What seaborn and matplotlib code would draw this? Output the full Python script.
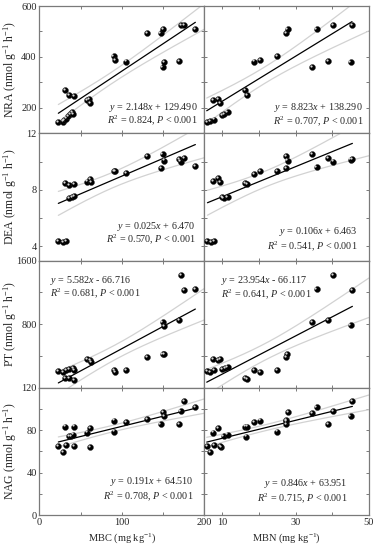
import numpy as np
import pandas as pd
import matplotlib
matplotlib.use("Agg")
import matplotlib.pyplot as plt
import matplotlib.transforms as mtransforms
from matplotlib.ticker import MultipleLocator, FixedLocator, NullFormatter
import seaborn as sns

# ---- data ----
nra_mbc_x = [22.9, 28.3, 30.2, 32.3, 35.1, 37.2, 39.3, 41.2, 31.1, 35.9, 42.1, 57.5, 60.7,
             61.6, 90.0, 91.7, 104.6, 130.7, 147.0, 150.2, 149.4, 151.0, 169.0, 172.2, 175.4, 189.3]
nra_mbc_y = [145, 146, 152, 158, 167, 174, 183, 174, 269, 250, 247, 230, 234,
             219, 403, 388, 382, 495, 495, 509, 359, 379, 383, 527, 525, 511]

nra_mbn_x = [5.7, 6.6, 7.7, 7.4, 8.9, 9.4, 9.8, 10.5, 11.4, 16.2, 16.6, 18.7, 20.3,
             25.0, 27.4, 27.8, 34.6, 35.7, 38.9, 40.1, 45.0, 45.4]
nra_mbn_y = [145, 148, 154, 230, 234, 220, 171, 174, 184, 269, 250, 382, 388,
             403, 495, 509, 359, 511, 383, 527, 379, 525]

dea_mbc_x = [22.9, 28.3, 32.3, 31.1, 36.0, 42.1, 36.0, 39.3, 42.1, 58.3, 61.6, 62.4,
             90.9, 92.1, 104.6, 130.7, 149.4, 147.8, 151.0, 169.0, 171.3, 175.4, 189.3]
dea_mbc_y = [4.36, 4.31, 4.36, 8.47, 8.36, 8.40, 7.45, 7.52, 7.57, 8.59, 8.76, 8.52,
             9.36, 9.31, 9.16, 10.38, 10.54, 9.54, 10.07, 10.19, 10.00, 10.24, 9.66]

dea_mbn_x = [5.9, 6.8, 7.7, 7.4, 8.9, 9.4, 9.9, 10.3, 11.4, 16.2, 16.8, 18.7, 20.3,
             25.0, 27.4, 27.4, 27.8, 34.6, 35.7, 38.9, 40.1, 45.0, 45.5]
dea_mbn_y = [4.36, 4.31, 4.36, 8.64, 8.81, 8.52, 7.50, 7.45, 7.50, 8.47, 8.40, 9.11, 9.31,
             9.36, 9.54, 10.38, 10.07, 10.50, 9.64, 10.24, 10.00, 10.14, 10.19]

pt_mbc_x = [22.9, 28.3, 32.3, 36.0, 41.2, 42.1, 31.1, 36.0, 42.1, 57.5, 61.6, 62.4,
            90.9, 92.1, 104.6, 130.7, 149.4, 151.0, 149.4, 151.0, 169.0, 172.4, 175.6, 189.3]
pt_mbc_y = [214, 197, 218, 235, 248, 227, 122, 122, 101, 361, 353, 324,
            218, 201, 227, 382, 424, 424, 823, 781, 857, 1415, 1226, 1243]

pt_mbn_x = [5.7, 6.6, 7.7, 7.4, 8.9, 9.4, 9.8, 10.7, 11.4, 16.2, 16.8, 18.7, 20.3,
            25.0, 27.4, 27.7, 34.6, 35.7, 38.9, 40.1, 45.0, 45.5]
pt_mbn_y = [214, 197, 218, 361, 344, 361, 235, 248, 256, 122, 109, 227, 201,
            218, 382, 424, 823, 1243, 857, 1415, 785, 1226]

nag_mbc_x = [22.9, 28.3, 32.3, 31.1, 36.0, 38.4, 40.4, 42.1, 42.1, 57.5, 61.6, 61.6,
             90.9, 90.9, 104.6, 130.7, 147.0, 150.2, 151.0, 169.0, 171.3, 175.4, 189.3]
nag_mbc_y = [65.2, 59.2, 65.9, 83.4, 74.7, 74.7, 75.9, 83.4, 65.2, 77.8, 81.9, 64.0,
             89.1, 78.7, 87.6, 90.4, 85.7, 96.7, 93.6, 85.7, 98.0, 107.7, 101.8]

nag_mbn_x = [5.7, 6.6, 7.7, 7.4, 8.9, 9.6, 9.4, 10.3, 11.4, 16.2, 16.8, 16.4, 18.7,
             20.3, 25.0, 27.4, 27.4, 27.4, 28.0, 34.6, 35.7, 38.9, 40.1, 45.0, 45.5]
nag_mbn_y = [65.2, 59.2, 65.9, 77.8, 81.9, 64.0, 65.2, 74.7, 75.9, 83.4, 83.4, 74.0, 87.6,
             89.1, 78.7, 85.7, 89.8, 88.2, 96.7, 96.1, 101.8, 85.7, 98.0, 93.6, 107.7]

# fitted equations as printed in the figure: (slope, intercept, R2)
fit_mbc = {"NRA": (2.148, 129.490, 0.824), "DEA": (0.025, 6.470, 0.570),
           "PT": (5.582, -66.716, 0.681), "NAG": (0.191, 64.510, 0.708)}
fit_mbn = {"NRA": (8.823, 138.290, 0.707), "DEA": (0.106, 6.463, 0.541),
           "PT": (23.954, -66.117, 0.641), "NAG": (0.846, 63.951, 0.715)}

enzymes = ["NRA", "DEA", "PT", "NAG"]
data_mbc = {"NRA": (nra_mbc_x, nra_mbc_y), "DEA": (dea_mbc_x, dea_mbc_y),
            "PT": (pt_mbc_x, pt_mbc_y), "NAG": (nag_mbc_x, nag_mbc_y)}
data_mbn = {"NRA": (nra_mbn_x, nra_mbn_y), "DEA": (dea_mbn_x, dea_mbn_y),
            "PT": (pt_mbn_x, pt_mbn_y), "NAG": (nag_mbn_x, nag_mbn_y)}

# axis settings per row: ylim, labelled ticks, minor step
ylims = {"NRA": (100, 600), "DEA": (3, 12), "PT": (0, 1600), "NAG": (0, 120)}
ylabels_ticks = {"NRA": [200, 400, 600], "DEA": [4, 8, 12], "PT": [800, 1600], "NAG": [0, 40, 80, 120]}
ystep = {"NRA": 100, "DEA": 2, "PT": 400, "NAG": 20}

# annotation placement (axes fraction): (x, y line1, y line2, ha)
ann_mbc = {"NRA": (0.96, 0.20, 0.10, "right"), "DEA": (0.95, 0.27, 0.17, "right"),
           "PT": (0.065, 0.845, 0.745, "left"), "NAG": (0.935, 0.26, 0.145, "right")}
ann_mbn = {"NRA": (0.965, 0.20, 0.095, "right"), "DEA": (0.93, 0.225, 0.11, "right"),
           "PT": (0.10, 0.84, 0.735, "left"), "NAG": (0.87, 0.245, 0.135, "right")}

sns.set_style("ticks")
plt.rcParams["font.family"] = ["Liberation Serif", "DejaVu Serif"]
plt.rcParams["mathtext.fontset"] = "custom"
plt.rcParams["mathtext.rm"] = "Liberation Serif"
plt.rcParams["mathtext.it"] = "Liberation Serif:italic"

fig, axes = plt.subplots(4, 2, figsize=(3.76, 5.5), dpi=100)
fig.subplots_adjust(left=0.105, right=0.981, top=0.989, bottom=0.0636, wspace=0, hspace=0)

spine_col = "#7a7a7a"
band_col = "#d2d2d2"


def draw_panel(ax, xs, ys, fit, xlim):
    xs = np.asarray(xs, float)
    ys = np.asarray(ys, float)
    slope, icpt, r2 = fit
    # confidence band around the printed regression line
    n = len(xs)
    resid = ys - (slope * xs + icpt)
    s = np.sqrt(np.sum(resid ** 2) / (n - 2))
    sxx = np.sum((xs - xs.mean()) ** 2)
    xg = np.linspace(xs.min(), xlim[1], 200)
    yg = slope * xg + icpt
    half = 2.07 * s * np.sqrt(1 / n + (xg - xs.mean()) ** 2 / sxx)
    ax.plot(xg, yg + half, color=band_col, lw=0.9, zorder=1)
    ax.plot(xg, yg - half, color=band_col, lw=0.9, zorder=1)
    xl = np.array([xs.min(), xs.max()])
    ax.plot(xl, slope * xl + icpt, color="black", lw=0.9, zorder=2)

    df = pd.DataFrame({"x": xs, "y": ys})
    sns.scatterplot(data=df, x="x", y="y", ax=ax, color="black", s=18,
                    edgecolor="#222222", linewidth=0.3, zorder=3, legend=False)
    # small highlight to mimic the shaded balls
    hl = mtransforms.offset_copy(ax.transData, fig=fig, x=-0.8, y=0.8, units="points")
    ax.scatter(xs, ys, s=2.5, color="#d8d8d8", linewidths=0, transform=hl, zorder=4)
    ax.set_xlim(*xlim)


for r, enz in enumerate(enzymes):
    for c, (dset, fits, anns, xlim) in enumerate([
            (data_mbc, fit_mbc, ann_mbc, (0, 200)),
            (data_mbn, fit_mbn, ann_mbn, (5, 50))]):
        ax = axes[r, c]
        xs, ys = dset[enz]
        draw_panel(ax, xs, ys, fits[enz], xlim)
        ax.set_ylim(*ylims[enz])
        ax.set_xlabel("")
        ax.set_ylabel("")

        # ticks
        ax.yaxis.set_major_locator(MultipleLocator(ystep[enz]))
        if c == 0:
            ax.xaxis.set_major_locator(MultipleLocator(50))
        else:
            ax.xaxis.set_major_locator(FixedLocator([10, 20, 30, 40, 50]))
        ax.tick_params(direction="in", length=2.5, width=0.7, color=spine_col,
                       top=True, right=True, labelsize=7.5, pad=2)
        ylab = ylabels_ticks[enz]
        if c == 0:
            ax.set_yticklabels([f"{v:g}" if v in ylab else "" for v in ax.get_yticks()])
        else:
            ax.yaxis.set_major_formatter(NullFormatter())
        if r == 3:
            if c == 0:
                xl_show = [0, 100, 200]
            else:
                xl_show = [10, 30, 50]
            ax.set_xticklabels([f"{v:g}" if v in xl_show else "" for v in ax.get_xticks()])
        else:
            ax.xaxis.set_major_formatter(NullFormatter())

        for sp in ax.spines.values():
            sp.set_color(spine_col)
            sp.set_linewidth(0.9)

        slope, icpt, r2 = fits[enz]
        sign = "+" if icpt >= 0 else "-"
        line1 = f"$y$ = {slope:.3f}$x$ {sign} {abs(icpt):.3f}"
        line2 = f"$R^2$ = {r2:.3f}, $P$ < 0.001"
        ax_x, y1, y2, ha = anns[enz]
        ax.text(ax_x, y1, line1, transform=ax.transAxes, ha=ha, va="center", fontsize=7.3)
        ax.text(ax_x, y2, line2, transform=ax.transAxes, ha=ha, va="center", fontsize=7.3)

    axes[r, 0].set_ylabel(f"{enz} (nmol g$^{{-1}}$ h$^{{-1}}$)", fontsize=8.5)
    axes[r, 0].yaxis.set_label_coords(-0.125, 0.5)

axes[3, 0].set_xlabel("MBC (mg kg$^{-1}$)", fontsize=7.5)
axes[3, 1].set_xlabel("MBN (mg kg$^{-1}$)", fontsize=7.5)
axes[3, 0].xaxis.set_label_coords(0.5, -0.125)
axes[3, 1].xaxis.set_label_coords(0.5, -0.125)

fig.savefig("out.png", dpi=100)
